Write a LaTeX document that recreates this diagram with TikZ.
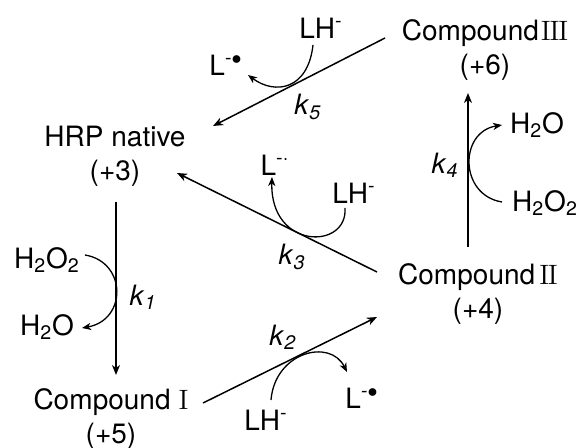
\documentclass[tikz,border=0pt]{standalone}
\usepackage{fontspec}
\setsansfont{TeX Gyre Heros}
\renewcommand{\familydefault}{\sfdefault}
\usetikzlibrary{arrows.meta}
\newcommand{\kk}[1]{\textit{k}\textsubscript{\textit{#1}}}
\newcommand{\romI}{{\rmfamily I}}
\newcommand{\romII}{{\rmfamily I\kern-0.6pt I}}
\newcommand{\romIII}{{\rmfamily I\kern-0.6pt I\kern-0.6pt I}}
\begin{document}
\begin{tikzpicture}[x=0.5pt, y=-0.5pt, every node/.style={font=\fontsize{14}{17}\selectfont, inner sep=0pt},
  state/.style={align=center},
  rxn/.style={line width=0.75pt, -{Stealth[length=5pt,width=4pt,inset=1.5pt]}},
  side/.style={line width=0.65pt, -{Stealth[length=4.5pt,width=3.6pt,inset=1.3pt]}}]
\useasboundingbox (0,0) rectangle (579,448);
% enzyme states
\node[state] (hrp) at (115,156) {HRP native\\(+3)};
\node[state] (c1) at (111,419) {Compound\hspace{4pt}\romI\\(+5)};
\node[state] (c2) at (478,294) {Compound\hspace{2pt}\romII\\(+4)};
\node[state] (c3) at (485,50) {Compound\hspace{1pt}\romIII\\(+6)};
% rate constants
\node (k1) at (143,297) {\kk{1}};
\node (k2) at (283,337) {\kk{2}};
\node (k3) at (292,257) {\kk{3}};
\node (k4) at (445,165) {\kk{4}};
\node (k5) at (308,107) {\kk{5}};
% co-substrates
\node (h2o2a) at (47,260) {H\textsubscript{2}O\textsubscript{2}};
\node (h2oa) at (47,327) {H\textsubscript{2}O};
\node (lh2) at (266,420) {LH\textsuperscript{-}};
\node (l2) at (362,398) {L\textsuperscript{-$\bullet$}};
\node (lh3) at (354,193) {LH\textsuperscript{-}};
\node (l3) at (275,165) {L\textsuperscript{-$\cdot$}};
\node (h2ob) at (537,125) {H\textsubscript{2}O};
\node (h2o2b) at (545,203) {H\textsubscript{2}O\textsubscript{2}};
\node (lh5) at (321,28) {LH\textsuperscript{-}};
\node (l5) at (226,65) {L\textsuperscript{-$\bullet$}};
% main cycle
\draw[rxn] ([shift={(0.5pt,-23pt)}]hrp.center) -- ([shift={(2.5pt,22pt)}]c1.center);
\draw[rxn] ([shift={(46pt,8pt)}]c1.center) -- ([shift={(-50.5pt,-11.5pt)}]c2.center);
\draw[rxn] ([shift={(-50.5pt,11pt)}]c2.center) -- ([shift={(31pt,-8.5pt)}]hrp.center);
\draw[rxn] ([shift={(-5pt,23.5pt)}]c2.center) -- ([shift={(-8.5pt,-21.5pt)}]c3.center);
\draw[rxn] ([shift={(-50pt,6pt)}]c3.center) -- ([shift={(49pt,15pt)}]hrp.center);
% side reactions
\draw[side] ([shift={(19pt,2.5pt)}]h2o2a.center) .. controls (127,262) and (127,320) .. ([shift={(17.5pt,-0.5pt)}]h2oa.center);
\draw[side] ([shift={(2.5pt,10pt)}]lh2.center) .. controls (275,352) and (330,338) .. ([shift={(-7.5pt,13pt)}]l2.center);
\draw[side] ([shift={(-4.5pt,-7.5pt)}]lh3.center) .. controls (348,250) and (270,250) .. ([shift={(-1.5pt,-6pt)}]l3.center);
\draw[side] ([shift={(-21.5pt,0.5pt)}]h2o2b.center) .. controls (459,195) and (459,132) .. ([shift={(-17.5pt,0pt)}]h2ob.center);
\draw[side] ([shift={(-4pt,-8.5pt)}]lh5.center) .. controls (308,90) and (275,95) .. ([shift={(11pt,-5pt)}]l5.center);
\end{tikzpicture}
\end{document}
